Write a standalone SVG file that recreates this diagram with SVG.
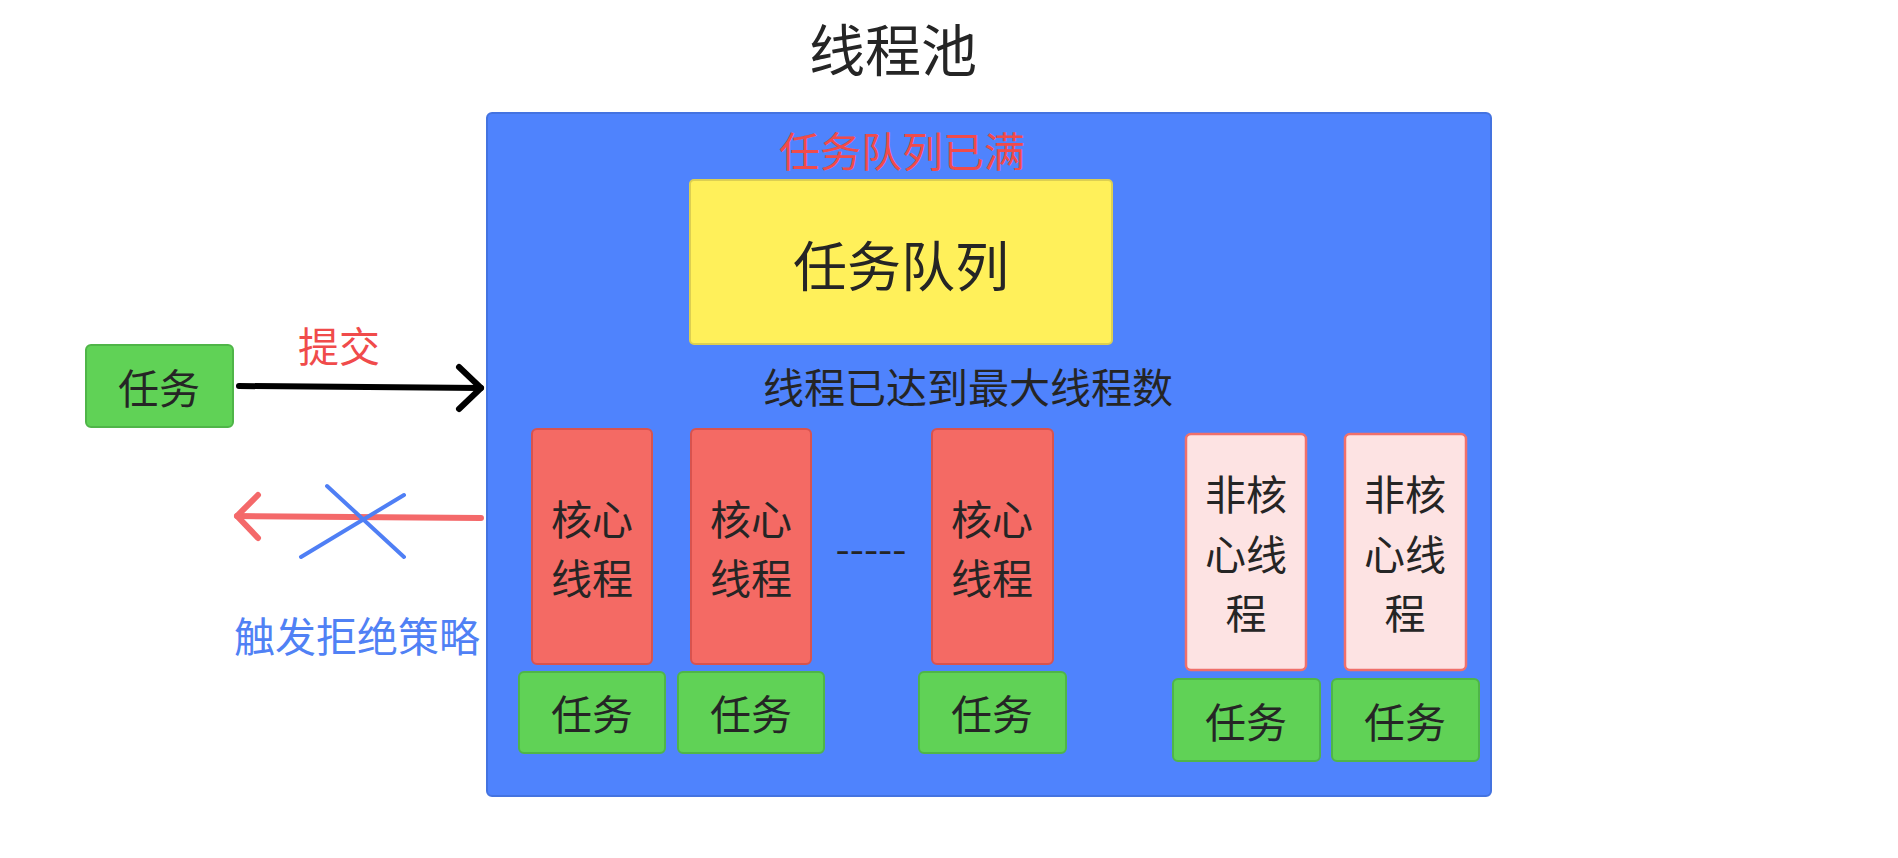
<svg xmlns="http://www.w3.org/2000/svg" width="1898" height="858" viewBox="0 0 1898 858">
<style>
text{font-family:"Noto Sans CJK SC","Noto Sans",sans-serif;text-anchor:middle;fill:#252525}
.t40{font-size:41px}
.task{fill:#60d256;stroke:#4fb548;stroke-width:2}
.core{fill:#f46a64;stroke:#d8534e;stroke-width:2}
.noncore{fill:#fde3e3;stroke:#f0706b;stroke-width:2.5}
</style>
<rect width="1898" height="858" fill="#ffffff"/>
<g id="title"><text x="893" y="71" style="font-size:56px">线程池</text></g>
<g id="pool">
<rect x="487" y="113" width="1004" height="683" rx="5" fill="#4f83fd" stroke="#4473e0" stroke-width="2"/>
<text x="902" y="167" class="t40" style="fill:#f04b4b">任务队列已满</text>
<text x="968" y="403" class="t40">线程已达到最大线程数</text>
<text x="871" y="564" class="t40">-----</text>
</g>
<g id="queue">
<rect x="690" y="180" width="422" height="164" rx="4" fill="#fff05a" stroke="#dccf52" stroke-width="2"/>
<text x="901" y="287" style="font-size:54px">任务队列</text>
</g>
<g id="task-in">
<rect x="86" y="345" width="147" height="82" rx="5" class="task"/>
<text x="159" y="404" class="t40">任务</text>
</g>
<g id="core1">
<rect x="532" y="429" width="120" height="235" rx="5" class="core"/>
<text x="592" y="535" class="t40">核心</text>
<text x="592" y="594" class="t40">线程</text>
</g>
<g id="core2">
<rect x="691" y="429" width="120" height="235" rx="5" class="core"/>
<text x="751" y="535" class="t40">核心</text>
<text x="751" y="594" class="t40">线程</text>
</g>
<g id="core3">
<rect x="932" y="429" width="121" height="235" rx="5" class="core"/>
<text x="992" y="535" class="t40">核心</text>
<text x="992" y="594" class="t40">线程</text>
</g>
<g id="noncore1">
<rect x="1186" y="434" width="120" height="236" rx="5" class="noncore"/>
<text x="1246" y="510" class="t40">非核</text>
<text x="1246" y="570" class="t40">心线</text>
<text x="1246" y="629" class="t40">程</text>
</g>
<g id="noncore2">
<rect x="1345" y="434" width="121" height="236" rx="5" class="noncore"/>
<text x="1405" y="510" class="t40">非核</text>
<text x="1405" y="570" class="t40">心线</text>
<text x="1405" y="629" class="t40">程</text>
</g>
<g id="task1"><rect x="519" y="672" width="146" height="81" rx="5" class="task"/><text x="592" y="730" class="t40">任务</text></g>
<g id="task2"><rect x="678" y="672" width="146" height="81" rx="5" class="task"/><text x="751" y="730" class="t40">任务</text></g>
<g id="task3"><rect x="919" y="672" width="147" height="81" rx="5" class="task"/><text x="992" y="730" class="t40">任务</text></g>
<g id="task4"><rect x="1173" y="679" width="147" height="82" rx="5" class="task"/><text x="1246" y="738" class="t40">任务</text></g>
<g id="task5"><rect x="1332" y="679" width="147" height="82" rx="5" class="task"/><text x="1405" y="738" class="t40">任务</text></g>
<g id="connectors" fill="none" stroke-linecap="round" stroke-linejoin="round">
<path d="M239 386 L481 388" stroke="#000" stroke-width="6"/>
<path d="M459 367 L481 388 L459 409" stroke="#000" stroke-width="6"/>
<path d="M481 518 L237 516" stroke="#f4696a" stroke-width="6"/>
<path d="M258 495 L237 516 L258 538" stroke="#f4696a" stroke-width="6"/>
<path d="M327 486 L404 557 M301 557 L404 495" stroke="#4f7ff5" stroke-width="4"/>
<text x="339" y="362" class="t40" style="fill:#f04b4b;stroke:none">提交</text>
<text x="357" y="652" class="t40" style="fill:#5081f5;stroke:none">触发拒绝策略</text>
</g>
</svg>
